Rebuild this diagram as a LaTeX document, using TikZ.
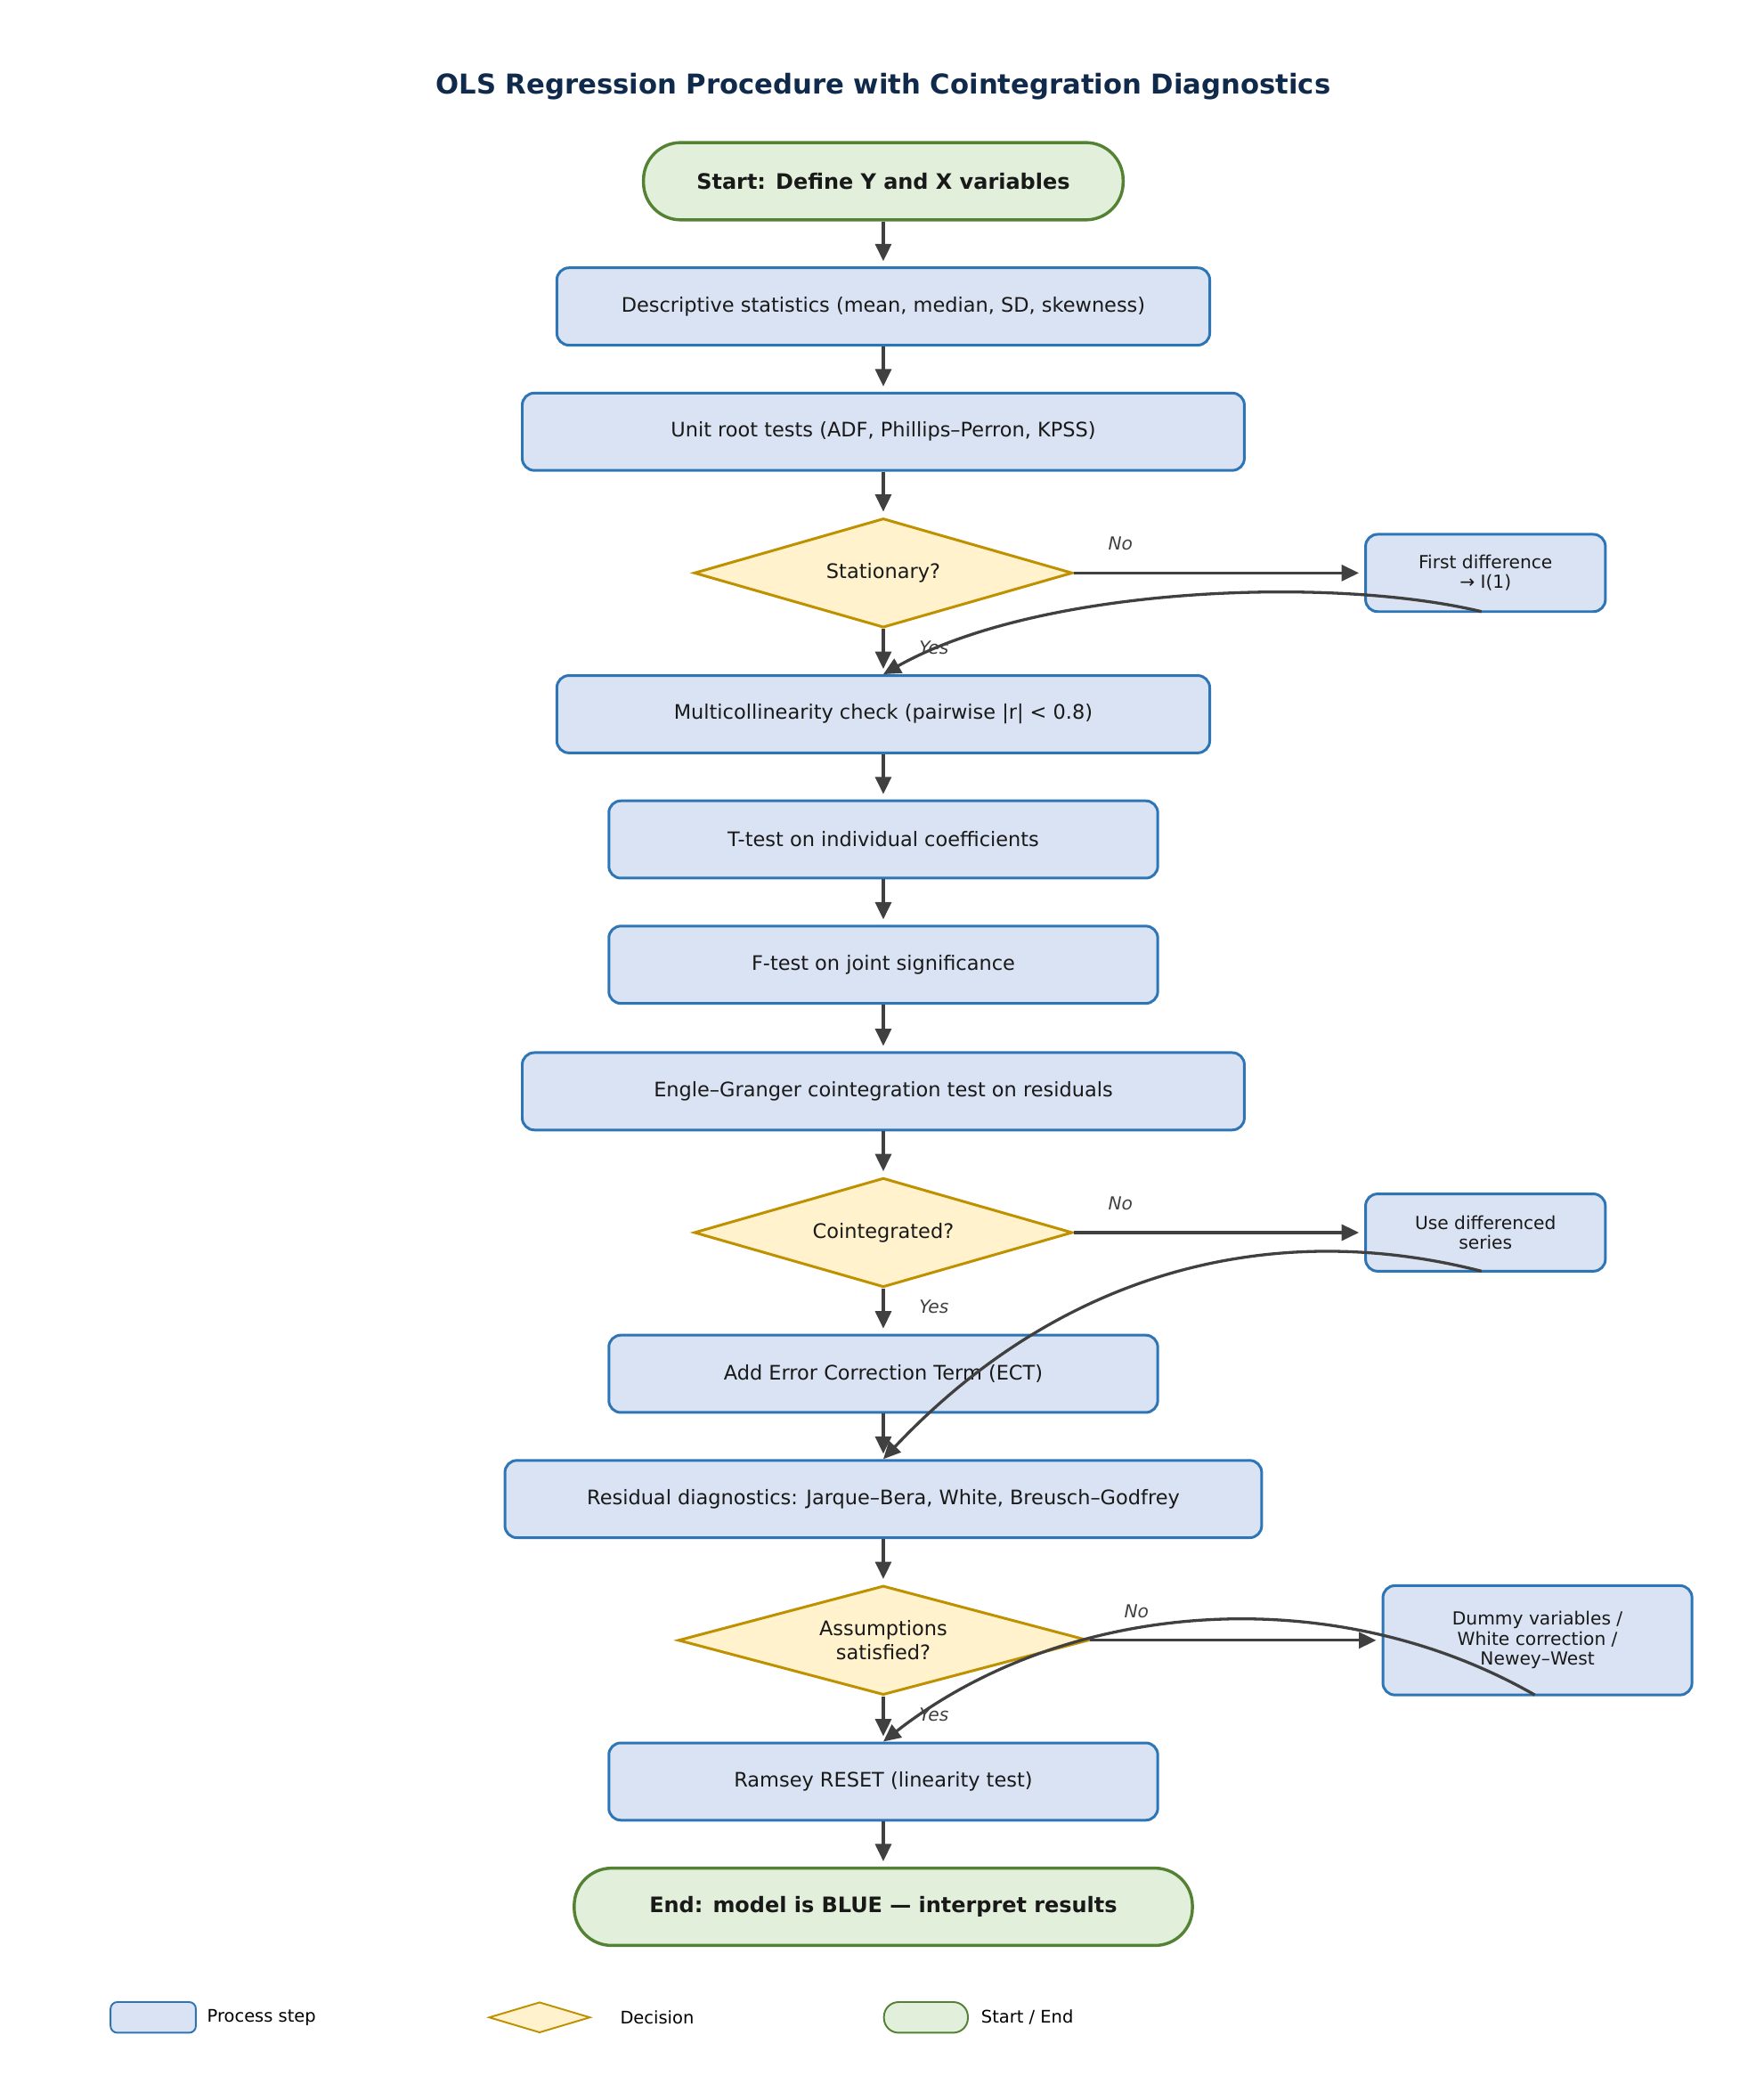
\documentclass[tikz,border=0pt]{standalone}
\usepackage{fontspec}
\setmainfont{DejaVu Sans}
\usetikzlibrary{shapes.geometric,arrows.meta}
\definecolor{pf}{HTML}{DAE3F3}\definecolor{pb}{HTML}{2E75B6}
\definecolor{df}{HTML}{FFF2CC}\definecolor{db}{HTML}{BF9000}
\definecolor{tf}{HTML}{E2EFDA}\definecolor{tb}{HTML}{548235}
\definecolor{ar}{HTML}{404040}\definecolor{ti}{HTML}{102A4C}
\begin{document}
\begin{tikzpicture}[x=1pt,y=-1pt,
 proc/.style={draw=pb,fill=pf,line width=2pt,rounded corners=9pt,minimum height=58pt,font=\fontsize{15}{18}\selectfont,text=black!90,align=center},
 side/.style={proc,font=\fontsize{13.5}{15}\selectfont},
 dec/.style={diamond,draw=db,fill=df,line width=2pt,aspect=3.46,inner sep=0pt,minimum height=82pt,font=\fontsize{15}{18}\selectfont,align=center,text=black!90},
 term/.style={draw=tb,fill=tf,line width=2.3pt,rounded corners=28pt,minimum height=58pt,font=\bfseries\fontsize{16}{19}\selectfont,text=black!90},
 arr/.style={draw=ar,line width=2.2pt,-{Triangle[length=13pt,width=12pt]},shorten >=4pt},
 lab/.style={font=\itshape\fontsize{13.5}{16}\selectfont,text=ar}]
\useasboundingbox (0,0) rectangle (1324,1564);
\node[font=\bfseries\fontsize{20.5}{24}\selectfont,text=ti] (title) at (663,65) {OLS Regression Procedure with Cointegration Diagnostics};
\node[term,minimum width=360pt] (s) at (663,136) {Start: Define Y and X variables};
\node[proc,minimum width=490pt] (d) at (663,230) {Descriptive statistics (mean, median, SD, skewness)};
\node[proc,minimum width=542pt] (u) at (663,324) {Unit root tests (ADF, Phillips–Perron, KPSS)};
\node[dec,minimum width=284pt] (st) at (663,430) {Stationary?};
\node[side,minimum width=180pt] (fd) at (1115,430) {First difference\\→ I(1)};
\node[proc,minimum width=490pt] (m) at (663,536) {Multicollinearity check (pairwise |r| < 0.8)};
\node[proc,minimum width=412pt] (t) at (663,630) {T-test on individual coefficients};
\node[proc,minimum width=412pt] (f) at (663,724) {F-test on joint significance};
\node[proc,minimum width=542pt] (e) at (663,819) {Engle–Granger cointegration test on residuals};
\node[dec,minimum width=284pt] (c) at (663,925) {Cointegrated?};
\node[side,minimum width=180pt] (ud) at (1115,925) {Use differenced\\series};
\node[proc,minimum width=412pt] (a) at (663,1031) {Add Error Correction Term (ECT)};
\node[proc,minimum width=568pt] (r) at (663,1125) {Residual diagnostics: Jarque–Bera, White, Breusch–Godfrey};
\node[dec,minimum width=308pt] (as) at (663,1231) {Assumptions\\satisfied?};
\node[side,minimum width=232pt,minimum height=82pt] (du) at (1154,1231) {Dummy variables /\\White correction /\\Newey–West};
\node[proc,minimum width=412pt] (ra) at (663,1337) {Ramsey RESET (linearity test)};
\node[term,minimum width=464pt] (en) at (663,1431) {End: model is BLUE — interpret results};
\foreach \p/\q in {s/d,d/u,u/st,st/m,m/t,t/f,f/e,e/c,c/a,a/r,r/as,as/ra,ra/en}
  \draw[arr] (\p) -- (\q);
\draw[arr] (st.east) -- (fd.west);
\draw[arr] (c.east) -- (ud.west);
\draw[arr] (as.east) -- (du.west);
\node[lab] (n1) at (841,408) {No};
\node[lab] (n2) at (841,903) {No};
\node[lab] (n3) at (853,1209) {No};
\node[lab] (y1) at (701,486) {Yes};
\node[lab] (y2) at (701,981) {Yes};
\node[lab] (y3) at (701,1287) {Yes};
\coordinate (f1) at (1112,459); \coordinate (f2) at (1112,954); \coordinate (f3) at (1152,1272);
\draw[arr,shorten >=0pt] (f1) .. controls (1000,432) and (780,440) .. (m.north);
\draw[arr,shorten >=0pt] (f2) .. controls (960,915) and (800,950) .. (r.north);
\draw[arr,shorten >=0pt] (f3) .. controls (1000,1185) and (800,1200) .. (ra.north);
\node[draw=pb,fill=pf,line width=1.3pt,rounded corners=5pt,minimum width=64pt,minimum height=23pt] (l1) at (115,1514) {};
\node[right,font=\fontsize{13}{15}\selectfont] (l1t) at (152,1514) {Process step};
\node[diamond,draw=db,fill=df,line width=1.3pt,aspect=3.3,inner sep=0pt,minimum width=76pt,minimum height=23pt] (l2) at (405,1514) {};
\node[right,font=\fontsize{13}{15}\selectfont] (l2t) at (462,1514) {Decision};
\node[draw=tb,fill=tf,line width=1.3pt,rounded corners=11pt,minimum width=63pt,minimum height=23pt] (l3) at (695,1514) {};
\node[right,font=\fontsize{13}{15}\selectfont] (l3t) at (733,1514) {Start / End};
\end{tikzpicture}
\end{document}
